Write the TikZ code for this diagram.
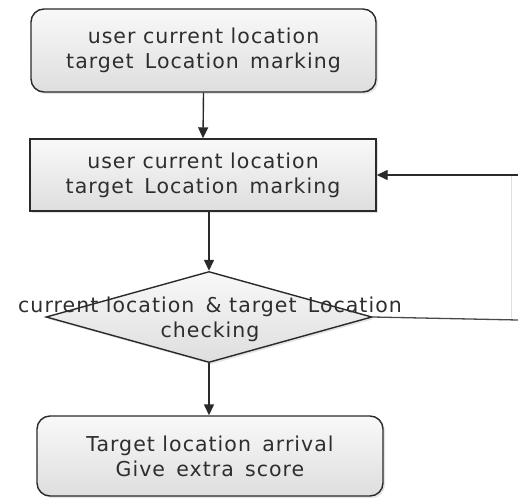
\documentclass[tikz,border=0pt]{standalone}
\usepackage{fontspec}
\setmainfont{DejaVu Sans}[LetterSpace=5]
\usetikzlibrary{arrows.meta,shapes.geometric,shadows}
\definecolor{edgegray}{HTML}{2A2A2A}
\definecolor{txtgray}{HTML}{2E2E2E}
\newcommand{\wgap}{\hspace{0.55em}}
\tikzset{
  every node/.style={font=\fontsize{20.5pt}{25pt}\selectfont, text=txtgray},
  boxfill/.style={top color=gray!5, bottom color=gray!26, draw=edgegray, line width=1.4pt,
    drop shadow={opacity=0.22, shadow xshift=2pt, shadow yshift=-2pt}},
  roundbox/.style={boxfill, rounded corners=13pt, inner sep=0pt, align=center},
  plainbox/.style={boxfill, inner sep=0pt, align=center},
  decision/.style={boxfill, diamond, inner sep=0pt},
  flow/.style={draw=edgegray, line width=1.4pt, -{Triangle[length=11pt,width=10pt]}},
  plainline/.style={draw=edgegray!85, line width=1.3pt},
}
\begin{document}
\begin{tikzpicture}[x=1pt, y=-1pt]
\useasboundingbox (0,0) rectangle (518,497);

% process boxes
\node[roundbox, minimum width=345pt, minimum height=83pt] (b1) at (203.5,50.5)
  {user current location\\target\wgap Location\wgap marking};
\node[plainbox, minimum width=346pt, minimum height=72pt] (b2) at (203,175)
  {user current location\\target\wgap Location\wgap marking};

% decision outline (its label is set last, over the outline)
\node[decision, minimum width=326pt, minimum height=91pt] (d) at (209,317) {};

% final box
\node[roundbox, minimum width=346pt, minimum height=80pt] (b4) at (210,456)
  {Target location\wgap arrival\\Give\wgap extra\wgap score};

% loop-back route on the right
\coordinate (r1) at (518,320);
\coordinate (r2) at (518,175);
\coordinate (v1) at (511,318);
\coordinate (v2) at (511,175);

% connectors
\draw[flow] (b1.south) -- (b2.north);
\draw[flow] (d.north |- b2.south) -- (d.north);
\draw[flow] (d.south) -- (d.south |- b4.north);
\draw[plainline] (d.east) -- (r1);
\draw[draw=gray!25, line width=0.8pt] (v1) -- (v2);
\draw[flow] (r2) -- (b2.east);

% decision label
\node[inner sep=0pt, align=center] (dt) at (210,319)
  {current location\wgap \&\ target\wgap Location\\checking};
\end{tikzpicture}
\end{document}
